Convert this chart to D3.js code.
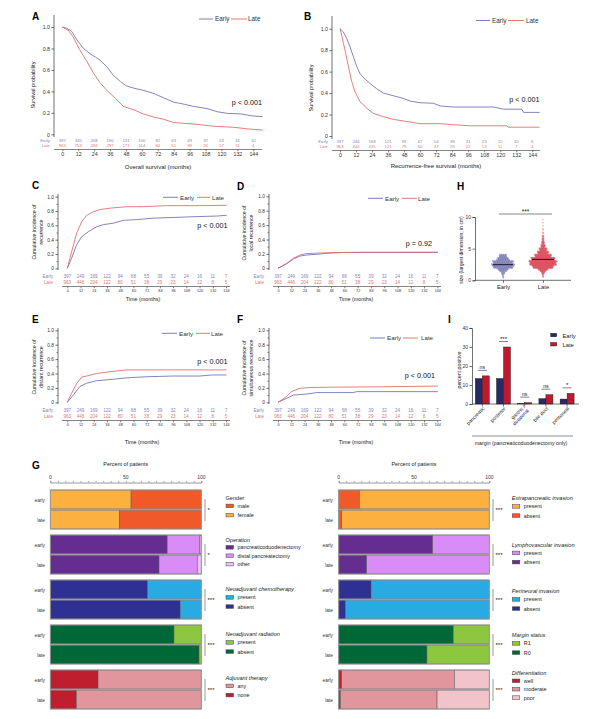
<!DOCTYPE html>
<html><head><meta charset="utf-8">
<script src="https://cdn.jsdelivr.net/npm/d3@7"></script>
<style>body{margin:0;background:#fff}svg{display:block;font-family:"Liberation Sans",Arial,sans-serif}</style>
</head><body><svg id="c" width="600" height="719"></svg>
<script>
// ---------------- DATA ----------------
const riskMonths = [0,12,24,36,48,60,72,84,96,108,120,132,144];
const osRiskEarly = [397,340,268,190,131,100,82,63,49,37,24,16,10];
const osRiskLate  = [963,753,494,297,171,114,84,51,39,26,17,11,4];
const rfsRiskEarly = [397,246,169,121,93,67,54,38,31,23,15,10,6];
const rfsRiskLate  = [963,444,205,121,79,60,37,29,22,13,11,7,4];
const ciRiskEarly = [397,249,169,122,94,68,55,39,32,24,16,11,7];
const ciRiskLate  = [963,446,204,122,80,51,38,29,23,14,12,8,5];

const osEarly = [[0,1],[3,0.99],[7,0.96],[11,0.88],[16,0.80],[21,0.75],[25,0.72],[28.5,0.69],[33.5,0.63],[38.5,0.55],[44,0.49],[48.5,0.45],[54,0.43],[61,0.41],[69,0.38],[76.5,0.34],[84,0.30],[92,0.28],[99,0.26],[109,0.24],[117,0.21],[124.5,0.195],[134.5,0.19],[144,0.17],[151,0.165]];
const osLate = [[0,1],[4.5,0.97],[8,0.91],[13,0.79],[18.5,0.68],[23.5,0.57],[28.5,0.48],[33.5,0.41],[40,0.335],[46,0.26],[54,0.228],[61,0.19],[69,0.16],[76.5,0.14],[84,0.11],[94,0.10],[104,0.09],[114,0.075],[129.5,0.065],[140,0.05],[151,0.04]];
const rfsEarly = [[0,1],[2.5,0.97],[5,0.91],[7.5,0.83],[10,0.74],[12.5,0.65],[15,0.58],[18.75,0.53],[22.5,0.49],[27.5,0.44],[32.5,0.40],[40,0.375],[47.5,0.35],[52.5,0.325],[60,0.31],[70,0.305],[75,0.28],[85,0.27],[115,0.27],[122.5,0.25],[136,0.25],[137.5,0.22],[149.5,0.22]];
const rfsLate = [[0,1],[1.25,0.94],[3.75,0.80],[6.25,0.65],[8.75,0.51],[11.25,0.41],[15,0.32],[20,0.26],[25,0.21],[32.5,0.18],[40,0.155],[50,0.135],[60,0.115],[75,0.115],[85,0.105],[97.5,0.095],[125,0.095],[126,0.082],[149.5,0.082]];
const recEarly = [[0,0],[3.9,0.14],[8.5,0.33],[13,0.44],[19,0.51],[26.6,0.58],[32.7,0.61],[41.7,0.63],[50.8,0.67],[63,0.68],[78,0.70],[96,0.71],[114,0.72],[135.5,0.73],[144.5,0.74]];
const recLate = [[0,0],[3.9,0.23],[8.5,0.49],[13,0.65],[17.5,0.74],[23.6,0.79],[29.6,0.82],[38.7,0.84],[54,0.86],[69,0.86],[90,0.875],[120,0.875],[144.5,0.88]];
const locEarly = [[0,0],[8,0.065],[14,0.13],[20,0.17],[26,0.185],[35,0.195],[47,0.212],[60,0.22],[144.5,0.222]];
const locLate = [[0,0],[8,0.07],[14,0.14],[20,0.185],[26,0.205],[35,0.21],[47,0.218],[77,0.222],[144.5,0.222]];
const distEarly = [[0,0],[5.4,0.10],[11.5,0.22],[17.5,0.265],[26.6,0.30],[41.7,0.32],[54,0.34],[72,0.355],[96,0.365],[120,0.365],[132,0.38],[144.5,0.38]];
const distLate = [[0,0],[3.9,0.125],[8.5,0.26],[13,0.35],[17.5,0.365],[26.6,0.40],[38.7,0.425],[54,0.45],[144.5,0.45]];
const simEarly = [[0,0],[7.8,0.055],[13.9,0.10],[26,0.115],[35,0.135],[68,0.135],[71,0.148],[144.5,0.148]];
const simLate = [[0,0],[7.8,0.08],[12.3,0.15],[20,0.195],[29,0.205],[47,0.21],[92,0.215],[144.5,0.225]];

// H: tumour size distribution (bin centre cm, count)
const sizeBinsEarly = [0.25,0.5,0.75,1.0,1.25,1.5,1.75,2.0,2.25,2.5,2.75,3.0,3.25,3.5,3.75,4.0];
const sizeCountsEarly = [1,2,3,6,8,18,25,45,50,55,45,50,30,25,18,16];
const sizeBinsLate = [0.5,0.75,1.0,1.25,1.5,1.75,2.0,2.25,2.5,2.75,3.0,3.25,3.5,3.75,4.0,4.25,4.5,4.75,5.0,5.25,5.5,5.75,6.0,6.25,6.5,6.75,7.0,7.5,8.0,8.5,9.0,9.5];
const sizeCountsLate = [2,3,6,10,22,35,70,75,95,90,100,80,85,55,60,35,40,22,28,12,15,8,10,5,6,3,5,3,2,1,1,1];
const sizeMeanEarly = 2.47, sizeMeanLate = 3.3;

// I: margins
const marginCats = ["pancreatic","posterior","gastric / duodenal","bile duct","peritoneal"];
const marginEarly = [13.4,13.4,0.35,2.8,2.6];
const marginLate = [14.8,30.0,0.7,4.9,5.6];
const marginSig = ["ns","***","ns","ns","*"];

// G: stacked percentages (left-to-right segments)
const gLeftVars = ["Gender","Operation","Neoadjuvant chemotherapy","Neoadjuvant radiation","Adjuvant therapy"];
const gRightVars = ["Extrapancreatic invasion","Lymphovascular invasion","Perineural invasion","Margin status","Differentiation"];
const gLevels = {
  "Gender":["female","male"],
  "Operation":["pancreaticoduodenectomy","distal pancreatectomy","other"],
  "Neoadjuvant chemotherapy":["absent","present"],
  "Neoadjuvant radiation":["absent","present"],
  "Adjuvant therapy":["none","any"],
  "Extrapancreatic invasion":["absent","present"],
  "Lymphovascular invasion":["absent","present"],
  "Perineural invasion":["absent","present"],
  "Margin status":["R0","R1"],
  "Differentiation":["well","moderate","poor"]
};
const gEarly = {
  "Gender":[53.5,46.5],"Operation":[77.4,21.7,0.9],"Neoadjuvant chemotherapy":[64.4,35.6],
  "Neoadjuvant radiation":[81.9,18.1],"Adjuvant therapy":[31.6,68.4],
  "Extrapancreatic invasion":[13.7,86.3],"Lymphovascular invasion":[62.4,37.6],
  "Perineural invasion":[21.5,78.5],"Margin status":[76.1,23.9],"Differentiation":[2,74.8,23.2]
};
const gLate = {
  "Gender":[46,54],"Operation":[72,25.3,2.7],"Neoadjuvant chemotherapy":[86,14],
  "Neoadjuvant radiation":[98.5,1.5],"Adjuvant therapy":[17.3,82.7],
  "Extrapancreatic invasion":[2,98],"Lymphovascular invasion":[18.6,81.4],
  "Perineural invasion":[4.4,95.6],"Margin status":[58.6,41.4],"Differentiation":[1.1,64.2,34.7]
};
const gSig = {"Gender":"*","Operation":"*","Neoadjuvant chemotherapy":"***","Neoadjuvant radiation":"***","Adjuvant therapy":"***",
  "Extrapancreatic invasion":"***","Lymphovascular invasion":"***","Perineural invasion":"***","Margin status":"***","Differentiation":"***"};

// ---------------- STYLE ----------------
const FONT = "'Liberation Sans', Arial, sans-serif";
const EC = "#6E6EB4", LC = "#E06868";
const ET = "#8585C2", LT = "#E27777";
const AX = "#333";
const gColors = {
  "Gender":["#FBB040","#F05A28"],
  "Operation":["#662D91","#D98CF5","#EBC2F5"],
  "Neoadjuvant chemotherapy":["#2E3192","#29ABE2"],
  "Neoadjuvant radiation":["#006837","#8DC63F"],
  "Adjuvant therapy":["#BE1E2D","#E1959C"],
  "Extrapancreatic invasion":["#F05A28","#FBB040"],
  "Lymphovascular invasion":["#662D91","#D98CF5"],
  "Perineural invasion":["#2E3192","#29ABE2"],
  "Margin status":["#006837","#8DC63F"],
  "Differentiation":["#BE1E2D","#E1959C","#F0C4C8"]
};
const italicTitle = v => !(v==="Gender"||v==="Operation");

const svg = d3.select("#c");
function txt(g,x,y,s,o={}){
  const t=g.append("text").attr("x",x).attr("y",y).text(s)
    .attr("font-size",o.fs||6).attr("fill",o.fill||"#222").attr("text-anchor",o.anchor||"start");
  if(o.bold) t.attr("font-weight","bold");
  if(o.italic) t.attr("font-style","italic");
  if(o.rot!==undefined) t.attr("transform",`rotate(${o.rot},${x},${y})`);
  return t;
}
function panelLabel(x,y,s){ txt(svg,x,y,s,{fs:10,bold:true,fill:"#000"}); }

// ---------------- KM PANELS ----------------
function km(c){
  const g = svg.append("g");
  const x = d3.scaleLinear().domain([0,144]).range([c.x0,c.x144]);
  const y = d3.scaleLinear().domain([0,1]).range([c.yb,c.yt]);
  g.append("line").attr("x1",c.ax).attr("x2",c.ax).attr("y1",c.axTop).attr("y2",c.axBot).attr("stroke",AX).attr("stroke-width",0.7);
  const ya = g.append("g").attr("transform",`translate(${c.ax},0)`)
    .call(d3.axisLeft(y).tickValues([0,0.2,0.4,0.6,0.8,1]).tickSize(2.5).tickPadding(1.5)
      .tickFormat(d=> d===0?"0":d3.format(".1f")(d)));
  ya.select(".domain").remove();
  ya.selectAll("line").attr("stroke",AX).attr("stroke-width",0.7);
  ya.selectAll("text").attr("font-size",c.tf).attr("fill","#333").attr("font-family",FONT);
  if(c.minor){
    const ym = g.append("g").attr("transform",`translate(${c.ax},0)`)
      .call(d3.axisLeft(y).tickValues([0.1,0.3,0.5,0.7,0.9]).tickSize(1.5).tickFormat(""));
    ym.select(".domain").remove();
    ym.selectAll("line").attr("stroke",AX).attr("stroke-width",0.6);
  }
  const xa = g.append("g").attr("transform",`translate(0,${c.xay})`)
    .call(d3.axisBottom(x).tickValues(riskMonths).tickSize(1.8).tickPadding(1.2));
  xa.select(".domain").attr("stroke",AX).attr("stroke-width",0.6).attr("d",`M${c.xStart},0H${c.xEnd}`);
  xa.selectAll("line").attr("stroke",AX).attr("stroke-width",0.6);
  xa.selectAll("text").attr("font-size",c.xtf).attr("fill","#333").attr("font-family",FONT);
  const line = d3.line().x(d=>x(d[0])).y(d=>y(d[1]));
  g.append("path").datum(c.early).attr("d",line).attr("fill","none").attr("stroke",EC).attr("stroke-width",0.85);
  g.append("path").datum(c.late).attr("d",line).attr("fill","none").attr("stroke",LC).attr("stroke-width",0.85);
  riskMonths.forEach((m,i)=>{
    txt(g,x(m),c.rE,c.riskE[i],{fs:c.rf,fill:ET,anchor:"middle"});
    txt(g,x(m),c.rL,c.riskL[i],{fs:c.rf,fill:LT,anchor:"middle"});
  });
  txt(g,c.rlx,c.rE,"Early",{fs:c.rf,fill:ET,anchor:"end"});
  txt(g,c.rlx,c.rL,"Late",{fs:c.rf,fill:LT,anchor:"end"});
  const L=c.leg;
  g.append("line").attr("x1",L[0]).attr("x2",L[1]).attr("y1",L[6]).attr("y2",L[6]).attr("stroke",EC).attr("stroke-width",0.9);
  txt(g,L[2],L[6]+2.2,"Early",{fs:c.lf,fill:"#333"});
  g.append("line").attr("x1",L[3]).attr("x2",L[4]).attr("y1",L[6]).attr("y2",L[6]).attr("stroke",LC).attr("stroke-width",0.9);
  txt(g,L[5],L[6]+2.2,"Late",{fs:c.lf,fill:"#333"});
  txt(g,c.px,c.py,c.p,{fs:c.pf,fill:"#111",anchor:"end"});
  txt(g,c.xtx,c.xty,c.xtitle,{fs:c.xtf2,fill:"#222",anchor:"middle"});
  c.ytitle.forEach((s,i)=>{
    const tx=c.ytx+i*c.ytGap;
    txt(g,tx,c.yty,s,{fs:c.ytf,fill:"#222",anchor:"middle",rot:-90});
  });
}

km({x0:62.3,x144:253.3,yb:134.3,yt:27,ax:54,axTop:15,axBot:137,tf:5.3,minor:false,
  xay:149.5,xStart:54,xEnd:262,xtf:5.3,early:osEarly,late:osLate,riskE:osRiskEarly,riskL:osRiskLate,
  rE:141.8,rL:147.2,rf:4.3,rlx:50,leg:[199,213,215,231,247,248,19],lf:6.4,
  px:262,py:104.5,p:"p < 0.001",pf:7.2,xtx:158,xty:168.5,xtitle:"Overall survival (months)",xtf2:6,
  ytitle:["Survival probability"],ytx:35,ytGap:0,yty:85,ytf:5.6});
km({x0:340,x144:532.3,yb:136,yt:28.7,ax:332,axTop:16,axBot:139,tf:5.3,minor:false,
  xay:150.5,xStart:332,xEnd:540,xtf:5.3,early:rfsEarly,late:rfsLate,riskE:rfsRiskEarly,riskL:rfsRiskLate,
  rE:143,rL:147.8,rf:4.3,rlx:328,leg:[476,490,492,508,524,526,20.5],lf:6.4,
  px:539.5,py:102,p:"p < 0.001",pf:7.2,xtx:436,xty:168,xtitle:"Recurrence-free survival (months)",xtf2:6,
  ytitle:["Survival probability"],ytx:313,ytGap:0,yty:88,ytf:5.6});

const ciCommon = {tf:4.8,minor:true,xtf:3.8,rf:4.6,lf:6.2,pf:7.2,xtf2:5.4,ytf:5.2,ytGap:6.5};
km(Object.assign({},ciCommon,{x0:67.3,x144:226,yb:268.3,yt:196.7,ax:58,axTop:194,axBot:270,
  xay:286.5,xStart:62,xEnd:230,early:recEarly,late:recLate,riskE:ciRiskEarly,riskL:ciRiskLate,
  rE:277.5,rL:284,rlx:53,leg:[163,178,180,197,210,212,197.3],
  px:227.5,py:227.5,p:"p < 0.001",xtx:143,xty:301,xtitle:"Time (months)",
  ytitle:["Cumulative incidence of","recurrence"],ytx:36,yty:232}));
km(Object.assign({},ciCommon,{x0:278,x144:437.3,yb:268.3,yt:196.3,ax:269,axTop:194,axBot:270,
  xay:286.5,xStart:273,xEnd:441,early:locEarly,late:locLate,riskE:ciRiskEarly,riskL:ciRiskLate,
  rE:277.5,rL:284,rlx:264,leg:[368,383,385,402,417,418,198.3],
  px:432,py:245.5,p:"p = 0.92",xtx:356,xty:301,xtitle:"Time (months)",
  ytitle:["Cumulative incidence of","local recurrence"],ytx:246,yty:233}));
km(Object.assign({},ciCommon,{x0:67.3,x144:226,yb:402.3,yt:330.3,ax:58,axTop:328,axBot:404,
  xay:420.5,xStart:62,xEnd:230,early:distEarly,late:distLate,riskE:ciRiskEarly,riskL:ciRiskLate,
  rE:411.5,rL:418,rlx:53,leg:[162,177,179,196,210,211,333.3],
  px:227.5,py:364,p:"p < 0.001",xtx:142,xty:444,xtitle:"Time (months)",
  ytitle:["Cumulative incidence of","distant recurrence"],ytx:36,yty:367}));
km(Object.assign({},ciCommon,{x0:278,x144:437.3,yb:402.3,yt:330.3,ax:269,axTop:328,axBot:404,
  xay:420.5,xStart:273,xEnd:441,early:simEarly,late:simLate,riskE:ciRiskEarly,riskL:ciRiskLate,
  rE:411.5,rL:418,rlx:264,leg:[370,385,387,403,418,421,338],
  px:435,py:378,p:"p < 0.001",xtx:356,xty:444,xtitle:"Time (months)",
  ytitle:["Cumulative incidence of","simultaneous recurrence"],ytx:246,yty:368}));

panelLabel(32,19.5,"A"); panelLabel(304,19.5,"B");
panelLabel(32,188.5,"C"); panelLabel(237,190,"D"); panelLabel(457,190,"H");
panelLabel(32,322.5,"E"); panelLabel(237,322.5,"F"); panelLabel(448,322.5,"I");
panelLabel(32,468.5,"G");

// ---------------- H ----------------
(function(){
  const g = svg.append("g");
  const y = d3.scaleLinear().domain([0,10]).range([280.3,217]);
  const x = d3.scalePoint().domain(["Early","Late"]).range([503,543]);
  const drawSwarm=(bins,counts,cx,maxHW,col)=>{
    const maxN=d3.max(counts);
    bins.forEach((b,j)=>{
      const n=counts[j], hw=maxHW*n/maxN;
      for(let i=0;i<n;i++){
        const dx = n>1 ? -hw+2*hw*i/(n-1) : 0;
        const dy = ((i*7)%5-2)*0.35;
        g.append("circle").attr("cx",cx+dx).attr("cy",y(b)+dy).attr("r",0.8)
          .attr("fill",col).attr("fill-opacity",0.4);
      }
    });
  };
  drawSwarm(sizeBinsEarly,sizeCountsEarly,x("Early"),11.5,"#5A5AA6");
  drawSwarm(sizeBinsLate,sizeCountsLate,x("Late"),14,"#D8394A");
  g.append("line").attr("x1",x("Early")-10).attr("x2",x("Early")+10).attr("y1",y(sizeMeanEarly)).attr("y2",y(sizeMeanEarly)).attr("stroke","#111").attr("stroke-width",0.9);
  g.append("line").attr("x1",x("Late")-11).attr("x2",x("Late")+11).attr("y1",y(sizeMeanLate)).attr("y2",y(sizeMeanLate)).attr("stroke","#111").attr("stroke-width",0.9);
  const ya=g.append("g").attr("transform","translate(475,0)").call(d3.axisLeft(y).tickValues([0,5,10]).tickSize(2.5).tickPadding(1.5));
  ya.select(".domain").attr("stroke",AX).attr("stroke-width",0.7);
  ya.selectAll("line").attr("stroke",AX).attr("stroke-width",0.7);
  ya.selectAll("text").attr("font-size",5).attr("fill","#333").attr("font-family",FONT);
  const xa=g.append("g").attr("transform","translate(0,280.3)").call(d3.axisBottom(x).tickSize(2.5).tickPadding(2));
  xa.select(".domain").attr("stroke",AX).attr("stroke-width",0.7).attr("d","M475,0H571");
  xa.selectAll("line").attr("stroke",AX).attr("stroke-width",0.7);
  xa.selectAll("text").attr("font-size",5.8).attr("fill","#222").attr("font-family",FONT);
  g.append("line").attr("x1",499).attr("x2",552).attr("y1",214).attr("y2",214).attr("stroke","#333").attr("stroke-width",0.6);
  txt(g,525.5,213.5,"***",{fs:6.5,anchor:"middle"});
  txt(g,463,250,"size (largest dimension; in cm)",{fs:5,anchor:"middle",rot:-90});
})();

// ---------------- I ----------------
(function(){
  const g = svg.append("g");
  const x = d3.scaleBand().domain(marginCats).range([471.7,577.7]);
  const y = d3.scaleLinear().domain([0,40]).range([404,328]);
  const bw = 7;
  marginCats.forEach((c,i)=>{
    const cx = x(c)+x.bandwidth()/2;
    g.append("rect").attr("x",cx-bw).attr("y",y(marginEarly[i])).attr("width",bw).attr("height",y(0)-y(marginEarly[i]))
      .attr("fill","#262A66").attr("stroke","#111").attr("stroke-width",0.4);
    g.append("rect").attr("x",cx).attr("y",y(marginLate[i])).attr("width",bw).attr("height",y(0)-y(marginLate[i]))
      .attr("fill","#C0192D").attr("stroke","#111").attr("stroke-width",0.4);
    const top = y(Math.max(marginEarly[i],marginLate[i]))-5.5;
    g.append("line").attr("x1",cx-4.5).attr("x2",cx+4.5).attr("y1",top).attr("y2",top).attr("stroke","#333").attr("stroke-width",0.6);
    txt(g,cx,top-1,marginSig[i],{fs:marginSig[i]==="ns"?5.2:6.2,anchor:"middle"});
    const lx=cx+2.5, ly=409;
    const t=g.append("text").attr("transform",`translate(${lx},${ly}) rotate(-45)`).attr("text-anchor","end")
      .attr("font-size",5).attr("fill","#222");
    if(c==="gastric / duodenal"){
      t.append("tspan").attr("x",0).attr("dy","-0.5em").text("gastric /");
      t.append("tspan").attr("x",0).attr("dy","1.1em").text("duodenal");
    } else t.text(c);
  });
  const ya=g.append("g").attr("transform","translate(472,0)").call(d3.axisLeft(y).tickValues([0,10,20,30,40]).tickSize(2.5).tickPadding(1.5));
  ya.select(".domain").attr("stroke",AX).attr("stroke-width",0.7);
  ya.selectAll("line").attr("stroke",AX).attr("stroke-width",0.7);
  ya.selectAll("text").attr("font-size",5).attr("fill","#333").attr("font-family",FONT);
  g.append("line").attr("x1",472).attr("x2",579).attr("y1",404).attr("y2",404).attr("stroke",AX).attr("stroke-width",0.7);
  marginCats.forEach(c=>{const cx=x(c)+x.bandwidth()/2; g.append("line").attr("x1",cx).attr("x2",cx).attr("y1",404).attr("y2",406.5).attr("stroke",AX).attr("stroke-width",0.7);});
  g.append("line").attr("x1",472).attr("x2",573).attr("y1",436).attr("y2",436).attr("stroke","#444").attr("stroke-width",0.6);
  txt(g,521,444.5,"margin (pancreaticoduodenectomy only)",{fs:5.2,anchor:"middle"});
  txt(g,461,370,"percent positive",{fs:5.3,anchor:"middle",rot:-90});
  g.append("rect").attr("x",550.7).attr("y",333.3).attr("width",6).attr("height",3.5).attr("fill","#262A66").attr("stroke","#111").attr("stroke-width",0.4);
  txt(g,562.5,337.5,"Early",{fs:5.8});
  g.append("rect").attr("x",550.7).attr("y",342.5).attr("width",6).attr("height",3.5).attr("fill","#C0192D").attr("stroke","#111").attr("stroke-width",0.4);
  txt(g,562.5,346.8,"Late",{fs:5.8});
})();

// ---------------- G ----------------
function gPanel(vars, ax0, ax100, labX, sigX, legX, legTitleY){
  const g = svg.append("g");
  const x = d3.scaleLinear().domain([0,100]).range([ax0,ax100]);
  txt(g,(ax0+ax100)/2,466,"Percent of patients",{fs:5.4,anchor:"middle"});
  const xa=g.append("g").attr("transform","translate(0,482.5)")
    .call(d3.axisTop(x).tickValues(d3.range(0,101,5)).tickSize(1.6).tickFormat(""));
  xa.select(".domain").attr("stroke","#999").attr("stroke-width",1);
  xa.selectAll("line").attr("stroke","#777").attr("stroke-width",0.6);
  [0,50,100].forEach(v=>txt(g,x(v),479,String(v),{fs:5,anchor:"middle",fill:"#333"}));
  const tops=[490,535,580,625,670];
  vars.forEach((v,k)=>{
    const top=tops[k];
    [["early",gEarly[v],top],["late",gLate[v],top+20]].forEach(([lab,vals,yy])=>{
      let acc=0;
      vals.forEach((p,j)=>{
        g.append("rect").attr("x",x(acc)).attr("y",yy).attr("width",x(acc+p)-x(acc)).attr("height",19)
          .attr("fill",gColors[v][j]).attr("stroke","#555").attr("stroke-width",0.5);
        acc+=p;
      });
      g.append("rect").attr("x",x(0)).attr("y",yy).attr("width",x(100)-x(0)).attr("height",19)
        .attr("fill","none").attr("stroke","#9a9a9a").attr("stroke-width",0.9);
      txt(g,labX,yy+11.5,lab,{fs:4.8,anchor:"end",fill:"#333"});
    });
    g.append("line").attr("x1",sigX).attr("x2",sigX).attr("y1",top+9).attr("y2",top+31).attr("stroke","#555").attr("stroke-width",0.6);
    txt(g,sigX+2.5,top+22,gSig[v],{fs:6,fill:"#222"});
    const ty=legTitleY[k];
    txt(g,legX,ty,v,{fs:5.6,italic:italicTitle(v),fill:"#222"});
    const levs=gLevels[v].map((l,j)=>[l,gColors[v][j]]);
    const order = levs.length===3 ? levs : levs.slice().reverse();
    order.forEach(([l,col],j)=>{
      const iy=ty+9.2*(j+1)-(levs.length===3?0.8*j+0.6:0);
      g.append("rect").attr("x",legX+0.5).attr("y",iy-4.6).attr("width",7.5).attr("height",3.6)
        .attr("fill",col).attr("stroke","#444").attr("stroke-width",0.5);
      txt(g,legX+12,iy-0.8,l,{fs:5.4,fill:"#222"});
    });
  });
}
gPanel(gLeftVars,50.3,201.3,45,205,225.5,[499.5,541.5,591,636,679.5]);
gPanel(gRightVars,338.7,489.3,333,493,511.8,[500,546.5,593,637,675]);
</script></body></html>
